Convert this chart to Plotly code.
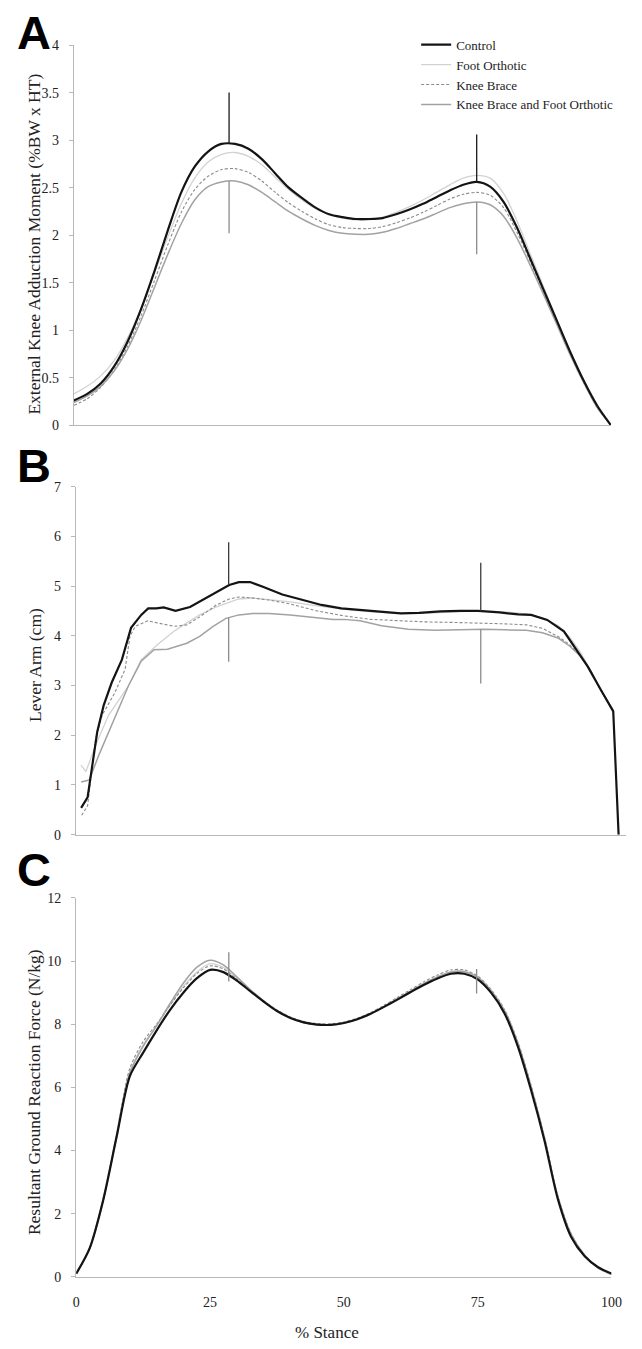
import plotly.graph_objects as go

# ---------------- DATA ----------------
# Panel A: External knee adduction moment (%BW x HT)
a_x = [0, 2.5, 5, 7.5, 10, 12.5, 15, 17.5, 20, 22.5, 25, 27.5, 30, 32.5, 35, 37.5, 40,
       42.5, 45, 47.5, 50, 52.5, 55, 57.5, 60, 62.5, 65, 67.5, 70, 72.5, 75, 77.5, 80,
       82.5, 85, 87.5, 90, 92.5, 95, 97.5, 100]
a_control = [0.26, 0.33, 0.44, 0.62, 0.88, 1.22, 1.62, 2.05, 2.45, 2.72, 2.88, 2.96, 2.96,
             2.91, 2.80, 2.65, 2.50, 2.39, 2.29, 2.22, 2.19, 2.17, 2.17, 2.18, 2.22, 2.27,
             2.33, 2.40, 2.47, 2.53, 2.56, 2.51, 2.35, 2.08, 1.75, 1.42, 1.09, 0.76, 0.46,
             0.20, 0.0]
a_foot = [0.33, 0.41, 0.52, 0.68, 0.92, 1.23, 1.60, 1.98, 2.33, 2.60, 2.77, 2.85, 2.87,
          2.83, 2.74, 2.61, 2.48, 2.37, 2.28, 2.22, 2.18, 2.16, 2.16, 2.19, 2.24, 2.30,
          2.37, 2.45, 2.53, 2.60, 2.63, 2.60, 2.44, 2.15, 1.80, 1.45, 1.10, 0.76, 0.45,
          0.19, 0.0]
a_knee = [0.21, 0.28, 0.40, 0.58, 0.83, 1.15, 1.52, 1.90, 2.24, 2.48, 2.62, 2.69, 2.70,
          2.66, 2.57, 2.45, 2.34, 2.25, 2.17, 2.11, 2.08, 2.07, 2.07, 2.09, 2.13, 2.18,
          2.24, 2.31, 2.38, 2.43, 2.45, 2.42, 2.29, 2.03, 1.72, 1.40, 1.07, 0.74, 0.44,
          0.18, 0.0]
a_both = [0.24, 0.31, 0.41, 0.57, 0.80, 1.10, 1.45, 1.80, 2.12, 2.37, 2.51, 2.56, 2.57,
          2.53, 2.45, 2.35, 2.25, 2.17, 2.10, 2.05, 2.02, 2.01, 2.01, 2.03, 2.07, 2.12,
          2.17, 2.23, 2.29, 2.33, 2.35, 2.32, 2.20, 1.97, 1.68, 1.37, 1.05, 0.73, 0.44,
          0.18, 0.0]
a_err_x = [28.9, 75.0]
a_err_control_y = [2.97, 2.56]
a_err_control_plus = [0.53, 0.50]
a_err_both_y = [2.57, 2.35]
a_err_both_minus = [0.55, 0.55]

# Panel B: Lever arm (cm)
b_control_x = [1, 2.2, 4.0, 5.2, 6.7, 8.6, 10.3, 12.2, 13.5, 15, 16.4, 18.6, 21.3, 23.7,
               26.2, 28.6, 30.4, 32.5, 35, 38.5, 42, 45.8, 49.5, 53, 57, 60.6, 64, 68,
               71.6, 75, 79, 82.5, 84.9, 87.9, 91.0, 92.9, 95.4, 97.8, 100.2, 101.2]
b_control = [0.54, 0.75, 2.07, 2.6, 3.06, 3.52, 4.16, 4.42, 4.55, 4.55, 4.57, 4.5, 4.58,
             4.72, 4.88, 5.02, 5.08, 5.08, 4.98, 4.83, 4.73, 4.62, 4.55, 4.52, 4.48, 4.45,
             4.46, 4.49, 4.5, 4.5, 4.47, 4.43, 4.42, 4.32, 4.09, 3.79, 3.39, 2.93, 2.48, 0.0]
b_foot_x = [1, 1.9, 3.7, 6.1, 9.8, 12.2, 15.2, 18.3, 20.7, 23.1, 26.2, 30.4, 33, 36, 40,
            45, 50, 55, 60, 65, 70, 75, 80, 84, 87, 90, 92, 94, 96, 98, 100.2]
b_foot = [1.4, 1.27, 1.8, 2.4, 2.99, 3.52, 3.82, 4.09, 4.26, 4.42, 4.58, 4.74, 4.76, 4.73,
          4.68, 4.6, 4.53, 4.48, 4.45, 4.45, 4.47, 4.5, 4.48, 4.44, 4.36, 4.2, 3.98, 3.68,
          3.3, 2.88, 2.5]
b_knee_x = [1.1, 2.2, 3.7, 4.9, 7.3, 9.2, 10.1, 11.1, 13.4, 15.8, 18.3, 20.7, 23.1, 26.2,
            28.6, 30.4, 33, 36, 40, 45, 50, 55, 60, 65, 70, 75, 80, 84, 87, 90, 92, 94,
            96, 98, 100.2]
b_knee = [0.39, 0.58, 1.93, 2.4, 2.86, 3.33, 3.99, 4.19, 4.3, 4.24, 4.19, 4.22, 4.38, 4.62,
          4.74, 4.78, 4.76, 4.72, 4.64, 4.5, 4.4, 4.33, 4.3, 4.28, 4.27, 4.26, 4.24, 4.22,
          4.15, 3.98, 3.83, 3.6, 3.3, 2.88, 2.5]
b_both_x = [1, 2.5, 4.3, 6.7, 9.8, 12.2, 14.6, 17.1, 20.7, 23.1, 25.6, 28, 30.4, 33, 36,
            40, 45, 48, 50, 53, 57, 62, 67, 72, 76, 80, 84, 87, 90, 92, 94, 96, 98, 100.2]
b_both = [1.06, 1.1, 1.6, 2.2, 2.99, 3.49, 3.72, 3.73, 3.85, 3.99, 4.19, 4.35, 4.42, 4.45,
          4.45, 4.42, 4.36, 4.33, 4.33, 4.3, 4.2, 4.13, 4.11, 4.12, 4.13, 4.12, 4.11, 4.06,
          3.95, 3.8, 3.6, 3.3, 2.88, 2.5]
b_err_x = [28.5, 75.5]
b_err_control_y = [5.03, 4.50]
b_err_control_plus = [0.85, 0.97]
b_err_both_y = [4.37, 4.13]
b_err_both_minus = [0.89, 1.09]

# Panel C: Resultant ground reaction force (N/kg)
c_x = a_x
c_control = [0.10, 0.9, 2.4, 4.4, 6.35, 7.1, 7.8, 8.45, 9.0, 9.45, 9.72, 9.65, 9.38, 9.05,
             8.72, 8.42, 8.2, 8.06, 7.99, 7.98, 8.04, 8.16, 8.33, 8.55, 8.78, 9.02, 9.25,
             9.45, 9.6, 9.6, 9.42, 9.0, 8.35, 7.3, 5.9, 4.3, 2.45, 1.25, 0.65, 0.3, 0.1]
c_foot = [0.1, 0.95, 2.5, 4.5, 6.5, 7.35, 7.95, 8.6, 9.2, 9.65, 9.92, 9.8, 9.45, 9.08, 8.73,
          8.43, 8.21, 8.07, 8.0, 7.99, 8.05, 8.17, 8.35, 8.57, 8.81, 9.06, 9.3, 9.51, 9.67,
          9.68, 9.5, 9.08, 8.45, 7.42, 6.02, 4.4, 2.55, 1.35, 0.7, 0.3, 0.08]
c_knee = [0.1, 0.9, 2.45, 4.5, 6.6, 7.45, 8.0, 8.6, 9.15, 9.6, 9.85, 9.75, 9.43, 9.07, 8.74,
          8.45, 8.23, 8.09, 8.02, 8.01, 8.07, 8.19, 8.37, 8.6, 8.85, 9.1, 9.35, 9.56, 9.72,
          9.72, 9.53, 9.1, 8.47, 7.45, 6.05, 4.42, 2.55, 1.35, 0.68, 0.28, 0.07]
c_both = [0.1, 0.9, 2.4, 4.4, 6.45, 7.3, 7.95, 8.65, 9.3, 9.8, 10.03, 9.88, 9.5, 9.1, 8.74,
          8.43, 8.2, 8.05, 7.98, 7.97, 8.03, 8.15, 8.33, 8.56, 8.8, 9.05, 9.29, 9.5, 9.65,
          9.66, 9.48, 9.06, 8.43, 7.4, 6.0, 4.38, 2.52, 1.32, 0.67, 0.28, 0.07]
c_err_x = [28.5, 74.8]
c_err_y = [9.55, 9.40]
c_err_plus = [0.73, 0.35]
c_err_minus = [0.20, 0.43]

x_ticks = [0, 25, 50, 75, 100]
names = ["Control", "Foot Orthotic", "Knee Brace", "Knee Brace and Foot Orthotic"]

# ---------------- STYLE ----------------
W, H = 642, 1349
SERIF = "Liberation Serif, Times New Roman, serif"
TXT = "#222222"
AX = "#b8b8b8"
styles = {
    "Control": dict(color="#141414", width=2.2),
    "Foot Orthotic": dict(color="#d2d2d2", width=1.3),
    "Knee Brace": dict(color="#8a8a8a", width=1.1, dash="3px,2px"),
    "Knee Brace and Foot Orthotic": dict(color="#a2a2a2", width=1.5),
}
ranks = {n: i + 1 for i, n in enumerate(names)}


def px(v):
    return v / W


def py(v):
    return 1 - v / H


fig = go.Figure()

panels = [
    ("x", "y", "spline",
     [(a_x, a_foot, "Foot Orthotic"), (a_x, a_knee, "Knee Brace"),
      (a_x, a_both, "Knee Brace and Foot Orthotic"), (a_x, a_control, "Control")]),
    ("x2", "y2", "linear",
     [(b_foot_x, b_foot, "Foot Orthotic"), (b_knee_x, b_knee, "Knee Brace"),
      (b_both_x, b_both, "Knee Brace and Foot Orthotic"), (b_control_x, b_control, "Control")]),
    ("x3", "y3", "spline",
     [(c_x, c_foot, "Foot Orthotic"), (c_x, c_knee, "Knee Brace"),
      (c_x, c_both, "Knee Brace and Foot Orthotic"), (c_x, c_control, "Control")]),
]

for i, (xa, ya, shape, series) in enumerate(panels):
    for xs, ys, name in series:
        line = dict(styles[name])
        line["shape"] = shape
        if shape == "spline":
            line["smoothing"] = 0.8
        fig.add_trace(go.Scatter(
            x=xs, y=ys, name=name, mode="lines", line=line,
            xaxis=xa, yaxis=ya, showlegend=(i == 0), legendrank=ranks[name],
            hoverinfo="skip"))


def err_trace(xs, ys, plus, minus, color, xa, ya):
    return go.Scatter(
        x=xs, y=ys, mode="markers", marker=dict(size=2, color=color, opacity=0),
        xaxis=xa, yaxis=ya, showlegend=False, hoverinfo="skip",
        error_y=dict(type="data", symmetric=False, array=plus, arrayminus=minus,
                     width=0, thickness=1.3, color=color))


zeros2 = [0, 0]
fig.add_trace(err_trace(a_err_x, a_err_control_y, a_err_control_plus, zeros2, "#1a1a1a", "x", "y"))
fig.add_trace(err_trace(a_err_x, a_err_both_y, zeros2, a_err_both_minus, "#8c8c8c", "x", "y"))
fig.add_trace(err_trace(b_err_x, b_err_control_y, b_err_control_plus, zeros2, "#3a3a3a", "x2", "y2"))
fig.add_trace(err_trace(b_err_x, b_err_both_y, zeros2, b_err_both_minus, "#8c8c8c", "x2", "y2"))
fig.add_trace(err_trace(c_err_x, c_err_y, c_err_plus, c_err_minus, "#8a8a8a", "x3", "y3"))

yaxis_common = dict(showline=True, linecolor=AX, linewidth=1.2, showgrid=False, zeroline=False,
                    ticks="outside", ticklen=4, tickcolor=AX, tickwidth=1,
                    tickfont=dict(family=SERIF, size=14, color=TXT), ticklabelstandoff=7)
xaxis_common = dict(showline=True, linecolor=AX, linewidth=1.2, showgrid=False, zeroline=False)

fig.update_layout(
    width=W, height=H, autosize=False,
    margin=dict(l=0, r=0, t=0, b=0),
    paper_bgcolor="white", plot_bgcolor="white",
    xaxis=dict(xaxis_common, domain=[px(71.5), px(621.5)], range=[0, 100],
               showticklabels=False, ticks="", anchor="y"),
    yaxis=dict(yaxis_common, domain=[py(423), py(38.5)], range=[0, 4], dtick=0.5,
               anchor="x"),
    xaxis2=dict(xaxis_common, domain=[px(73.5), px(637)], range=[0, 102.6],
                showticklabels=False, ticks="", anchor="y2"),
    yaxis2=dict(yaxis_common, domain=[py(837), py(485)], range=[0, 7], dtick=1,
                anchor="x2"),
    xaxis3=dict(xaxis_common, domain=[px(74), px(622)], range=[0, 100],
                tickvals=x_ticks, ticks="", ticklabelstandoff=12,
                tickfont=dict(family=SERIF, size=14, color=TXT), anchor="y3"),
    yaxis3=dict(yaxis_common, domain=[py(1284), py(901)], range=[0, 12], dtick=2,
                anchor="x3"),
    legend=dict(x=px(422), y=py(23), xanchor="left", yanchor="top",
                font=dict(family=SERIF, size=13, color=TXT),
                bgcolor="rgba(0,0,0,0)", itemwidth=30, traceorder="normal",
                tracegroupgap=0),
    showlegend=True,
)

annotations = []
for letter, cy in [("A", 26), ("B", 464), ("C", 872)]:
    annotations.append(dict(text=letter, xref="paper", yref="paper", x=px(11), y=py(cy),
                            xanchor="left", yanchor="middle", showarrow=False,
                            font=dict(family="Liberation Sans, Arial, sans-serif", size=47,
                                      color="black", weight="bold")))
for title, cy in [("External Knee Adduction Moment (%BW x HT)", 240),
                  ("Lever Arm (cm)", 665),
                  ("Resultant Ground Reaction Force (N/kg)", 1097)]:
    annotations.append(dict(text=title, xref="paper", yref="paper", x=px(31), y=py(cy),
                            xanchor="center", yanchor="middle", textangle=-90,
                            showarrow=False,
                            font=dict(family=SERIF, size=17.5, color=TXT)))
annotations.append(dict(text="% Stance", xref="paper", yref="paper", x=px(331), y=py(1340),
                        xanchor="center", yanchor="middle", showarrow=False,
                        font=dict(family=SERIF, size=17, color=TXT)))
fig.update_layout(annotations=annotations)

fig.write_html("out.html", config={"displayModeBar": False},
               post_script="document.body.style.margin='0';")
